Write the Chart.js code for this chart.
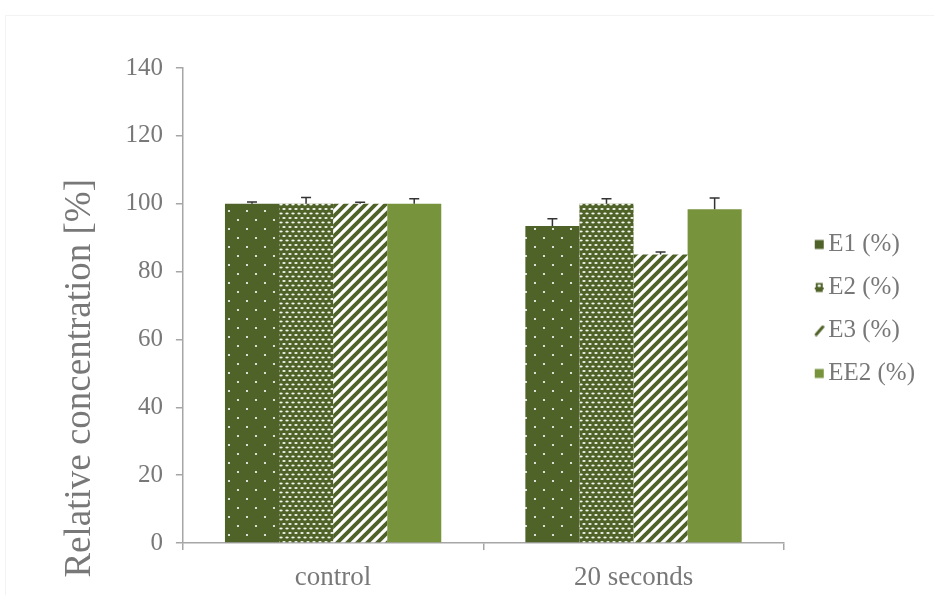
<!DOCTYPE html>
<html>
<head>
<meta charset="utf-8">
<script src="https://cdn.jsdelivr.net/npm/chart.js@4"></script>
<style>
  html, body { margin: 0; padding: 0; background: #ffffff; }
  #wrap { position: relative; width: 934px; height: 595px; }
  #frame { position: absolute; left: 5px; top: 15px; right: -2px; bottom: -2px; border: 1px solid #f3f3f3; pointer-events: none; }
  canvas { display: block; }
</style>
</head>
<body>
<div id="wrap">
  <canvas id="c" width="934" height="595"></canvas>
  <div id="frame"></div>
</div>
<script>
// ---- data ----
const categories = ['control', '20 seconds'];
const seriesNames = ['E1 (%)', 'E2 (%)', 'E3 (%)', 'EE2 (%)'];
const e1Values = [100, 93.4];
const e2Values = [100, 100];
const e3Values = [100, 85];
const ee2Values = [100, 98.4];
const e1Errors = [0.5, 2.2];
const e2Errors = [1.8, 1.5];
const e3Errors = [0.4, 0.8];
const ee2Errors = [1.5, 3.3];
const yTickMin = 0;
const yTickMax = 140;
const yTickStep = 20;
const yTitle = 'Relative concentration [%]';

// ---- styles ----
const DARK = '#4f6228';
const LIGHT = '#77933c';
const TEXT = '#787878';
const AXIS = '#a6a6a6';
const FONT = "'Liberation Serif', 'Times New Roman', serif";

function makeCanvas(w, h, draw) {
  const c = document.createElement('canvas');
  c.width = w; c.height = h;
  draw(c.getContext('2d'), w, h);
  return c;
}
function makePattern(w, h, draw) {
  return makeCanvas(w, h, draw).getContext('2d').createPattern(makeCanvas(w, h, draw), 'repeat');
}
const ctx = document.getElementById('c').getContext('2d');

const dotPattern = makePattern(18, 18, (g, w, h) => {
  g.fillStyle = DARK; g.fillRect(0, 0, w, h);
  g.fillStyle = '#ffffff';
  g.beginPath(); g.arc(4, 4, 1.1, 0, Math.PI * 2); g.fill();
  g.beginPath(); g.arc(13, 13, 1.1, 0, Math.PI * 2); g.fill();
});
const meshPattern = makePattern(6, 9, (g, w, h) => {
  g.fillStyle = DARK; g.fillRect(0, 0, w, h);
  g.fillStyle = '#f4f7ee';
  g.beginPath(); g.ellipse(2, 2, 1.7, 1.0, 0, 0, Math.PI * 2); g.fill();
  g.beginPath(); g.ellipse(5, 6.5, 1.7, 1.0, 0, 0, Math.PI * 2); g.fill();
  g.beginPath(); g.ellipse(-1, 6.5, 1.7, 1.0, 0, 0, Math.PI * 2); g.fill();
});
const stripePattern = makePattern(10, 10, (g, w, h) => {
  g.fillStyle = '#ffffff'; g.fillRect(0, 0, w, h);
  g.strokeStyle = DARK; g.lineWidth = 3.8;
  [[-5, 5, 5, -5], [0, 10, 10, 0], [5, 15, 15, 5]].forEach(([a, b, c2, d]) => {
    g.beginPath(); g.moveTo(a, b); g.lineTo(c2, d); g.stroke();
  });
});

// legend icons (icon drawn in the right part of a wider transparent canvas)
const ICON_W = 32, ICON_H = 12, IX = 22;
const legendIcons = [
  makeCanvas(ICON_W, ICON_H, (g) => {
    g.fillStyle = DARK; g.fillRect(IX, 1.5, 9, 9);
  }),
  makeCanvas(ICON_W, ICON_H, (g) => {
    g.fillStyle = DARK;
    g.fillRect(IX + 1, 1.5, 7, 9);
    g.fillRect(IX, 6, 9, 2);
    g.fillStyle = '#ffffff';
    g.beginPath(); g.ellipse(IX + 4.5, 4.2, 1.6, 1.2, 0, 0, Math.PI * 2); g.fill();
  }),
  makeCanvas(ICON_W, ICON_H, (g) => {
    g.strokeStyle = DARK; g.lineWidth = 3; g.lineCap = 'round';
    g.beginPath(); g.moveTo(IX + 1.5, 10); g.lineTo(IX + 8, 2.5); g.stroke();
  }),
  makeCanvas(ICON_W, ICON_H, (g) => {
    g.fillStyle = LIGHT; g.fillRect(IX, 1.5, 9, 9);
  })
];

const errorSets = [e1Errors, e2Errors, e3Errors, ee2Errors];

const errorBarPlugin = {
  id: 'errorBars',
  afterDatasetsDraw(chart) {
    const g = chart.ctx;
    const yScale = chart.scales.y;
    g.save();
    g.strokeStyle = '#333333';
    g.lineWidth = 1.5;
    chart.data.datasets.forEach((ds, di) => {
      const meta = chart.getDatasetMeta(di);
      meta.data.forEach((bar, i) => {
        const v = ds.data[i];
        const err = errorSets[di][i];
        const yTop = yScale.getPixelForValue(v + err);
        const yBase = yScale.getPixelForValue(v);
        g.beginPath();
        g.moveTo(bar.x, yBase);
        g.lineTo(bar.x, yTop);
        g.moveTo(bar.x - 5, yTop);
        g.lineTo(bar.x + 5, yTop);
        g.stroke();
      });
    });
    g.restore();
  }
};

new Chart(ctx, {
  type: 'bar',
  data: {
    labels: categories,
    datasets: [
      { label: seriesNames[0], data: e1Values, backgroundColor: dotPattern },
      { label: seriesNames[1], data: e2Values, backgroundColor: meshPattern },
      { label: seriesNames[2], data: e3Values, backgroundColor: stripePattern },
      { label: seriesNames[3], data: ee2Values, backgroundColor: LIGHT }
    ]
  },
  options: {
    responsive: false,
    animation: false,
    layout: { padding: { left: 58, top: 68, right: 9, bottom: -10 } },
    datasets: { bar: { categoryPercentage: 0.72, barPercentage: 1.0, borderWidth: 0 } },
    plugins: {
      legend: {
        position: 'right',
        align: 'start',
        title: { display: true, text: ' ', font: { size: 10 }, padding: { top: 134, bottom: 0 } },
        labels: {
          font: { family: FONT, size: 25 },
          color: TEXT,
          usePointStyle: true,
          pointStyleWidth: 14,
          boxHeight: 12,
          padding: 18,
          generateLabels(chart) {
            const items = Chart.defaults.plugins.legend.labels.generateLabels(chart);
            items.forEach((it, i) => { it.pointStyle = legendIcons[i]; });
            return items;
          }
        }
      },
      tooltip: { enabled: false }
    },
    scales: {
      x: {
        grid: { display: true, drawOnChartArea: false, drawTicks: true, tickLength: 7, color: AXIS, lineWidth: 1.5 },
        border: { color: AXIS, width: 1.5 },
        ticks: { font: { family: FONT, size: 27, lineHeight: 1 }, color: TEXT, padding: 14 }
      },
      y: {
        min: yTickMin,
        max: yTickMax,
        grid: { display: true, drawOnChartArea: false, drawTicks: true, tickLength: 7, color: AXIS, lineWidth: 1.5 },
        border: { color: AXIS, width: 1.5 },
        ticks: { stepSize: yTickStep, font: { family: FONT, size: 25 }, color: TEXT, padding: 13 },
        title: {
          display: true,
          text: yTitle + '            ',
          align: 'end',
          font: { family: FONT, size: 37 },
          color: TEXT,
          padding: { top: 0, bottom: 10 }
        }
      }
    }
  },
  plugins: [errorBarPlugin]
});
</script>
</body>
</html>
